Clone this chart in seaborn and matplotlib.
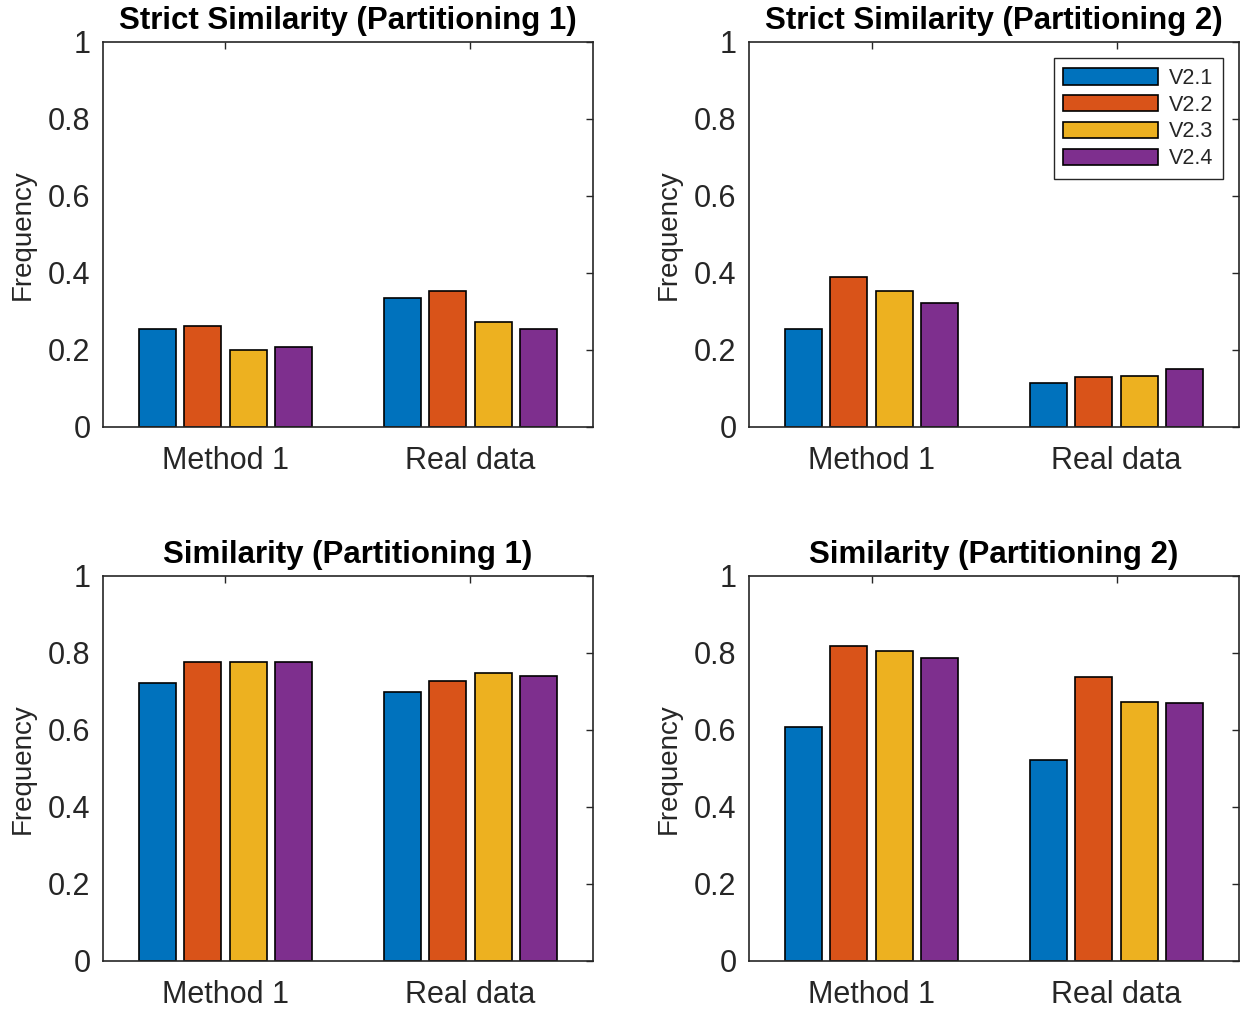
"""Grouped bar charts of similarity frequencies, four panels."""

import matplotlib.pyplot as plt
import pandas as pd
import seaborn as sns

plt.switch_backend("Agg")

GROUPS = ["Method 1", "Real data"]
VERSIONS = ["V2.1", "V2.2", "V2.3", "V2.4"]
COLORS = ["#0072BD", "#D95319", "#EDB120", "#7E2F8E"]

TITLES = [
    "Strict Similarity (Partitioning 1)",
    "Strict Similarity (Partitioning 2)",
    "Similarity (Partitioning 1)",
    "Similarity (Partitioning 2)",
]

# values per version, as [Method 1, Real data]
strict_p1 = {
    "V2.1": [0.255, 0.336],
    "V2.2": [0.262, 0.354],
    "V2.3": [0.201, 0.272],
    "V2.4": [0.208, 0.255],
}
strict_p2 = {
    "V2.1": [0.255, 0.115],
    "V2.2": [0.390, 0.130],
    "V2.3": [0.354, 0.133],
    "V2.4": [0.322, 0.151],
}
sim_p1 = {
    "V2.1": [0.723, 0.698],
    "V2.2": [0.776, 0.727],
    "V2.3": [0.776, 0.747],
    "V2.4": [0.776, 0.741],
}
sim_p2 = {
    "V2.1": [0.608, 0.523],
    "V2.2": [0.819, 0.737],
    "V2.3": [0.805, 0.673],
    "V2.4": [0.787, 0.669],
}

Y_TICKS = [0, 0.2, 0.4, 0.6, 0.8, 1]
Y_TICK_LABELS = ["0", "0.2", "0.4", "0.6", "0.8", "1"]


def to_frame(values):
    rows = []
    for version in VERSIONS:
        for group, v in zip(GROUPS, values[version]):
            rows.append({"group": group, "version": version, "value": v})
    return pd.DataFrame(rows)


def main() -> None:
    sns.set_style("white")
    plt.rcParams["font.family"] = ["Liberation Sans", "DejaVu Sans"]
    plt.rcParams["axes.edgecolor"] = "#262626"

    fig = plt.figure(figsize=(12.48, 10.14), dpi=100)
    boxes = [
        [0.0825, 0.5789, 0.3926, 0.3797],
        [0.6002, 0.5789, 0.3926, 0.3797],
        [0.0825, 0.0523, 0.3926, 0.3797],
        [0.6002, 0.0523, 0.3926, 0.3797],
    ]
    datasets = [strict_p1, strict_p2, sim_p1, sim_p2]

    for i, (box, data, title) in enumerate(zip(boxes, datasets, TITLES)):
        ax = fig.add_axes(box)
        sns.barplot(
            data=to_frame(data),
            x="group",
            y="value",
            hue="version",
            hue_order=VERSIONS,
            palette=COLORS,
            saturation=1,
            width=0.74,
            gap=0.18,
            edgecolor="black",
            linewidth=1.2,
            errorbar=None,
            legend=(i == 1),
            ax=ax,
        )
        ax.set_xlim(-0.5, 1.5)
        ax.set_ylim(0, 1)
        ax.set_yticks(Y_TICKS)
        ax.set_yticklabels(Y_TICK_LABELS)
        ax.set_xlabel("")
        ax.set_ylabel("Frequency", fontsize=20, color="#262626")
        ax.yaxis.set_label_coords(-0.138, 0.5)
        ax.set_title(title, fontsize=22.5, fontweight="bold", pad=9, color="black")
        ax.tick_params(
            axis="both",
            direction="in",
            length=5,
            width=1,
            colors="#262626",
            labelsize=22,
            top=True,
            right=True,
        )
        ax.tick_params(axis="y", pad=9)
        ax.tick_params(axis="x", pad=14)
        for spine in ax.spines.values():
            spine.set_linewidth(1.2)
            spine.set_color("#262626")

        if i == 1:
            handles, labels = ax.get_legend_handles_labels()
            ax.legend(
                handles,
                labels,
                loc="upper right",
                fontsize=15.5,
                handlelength=4.4,
                handleheight=0.8,
                handletextpad=0.5,
                labelspacing=0.27,
                borderpad=0.45,
                borderaxespad=0.75,
                frameon=True,
                fancybox=False,
                edgecolor="#262626",
                framealpha=1,
            )
            ax.get_legend().get_frame().set_linewidth(1)

    fig.savefig("out.png", dpi=100)
    plt.close(fig)


if __name__ == "__main__":
    main()
